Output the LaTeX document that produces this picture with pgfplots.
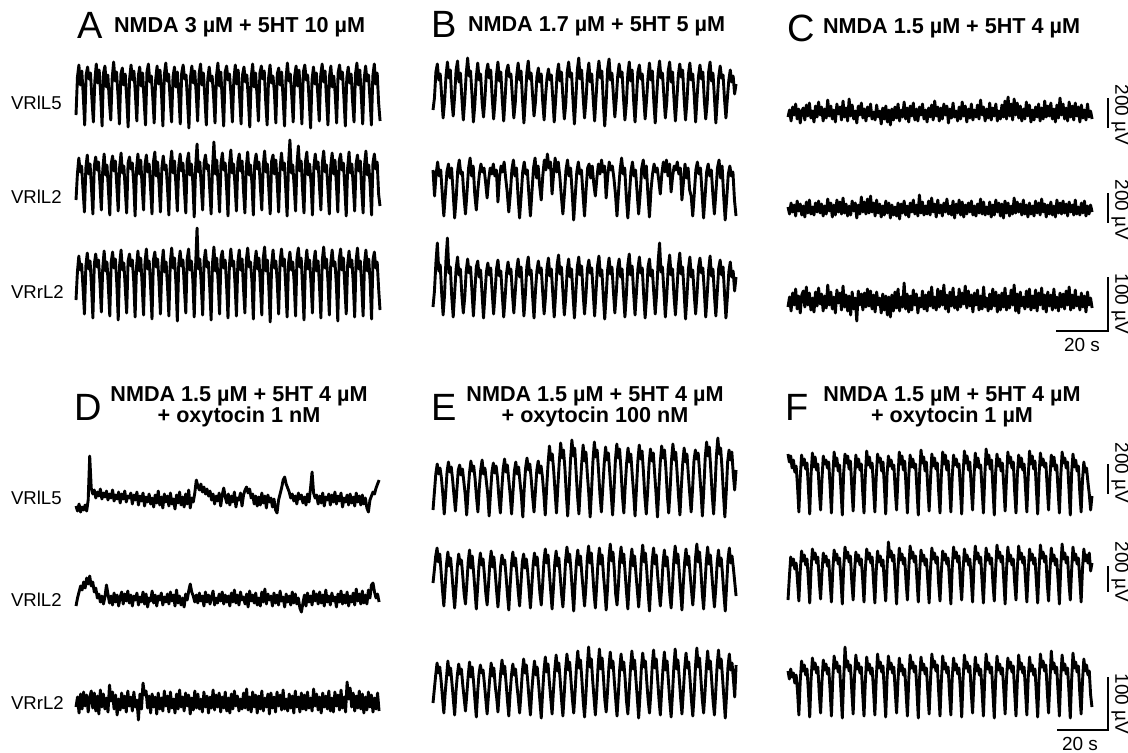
\documentclass[border=0pt]{standalone}
\usepackage{pgfplots}
\pgfplotsset{compat=1.18}
\usepackage{fontspec}
\setmainfont{Liberation Sans}
\pgfplotsset{tr/.style={black, line width=1.45pt, line join=round, mark=none}}
\tikzset{t/.style={inner sep=0pt, outer sep=0pt}}
\newcommand{\trace}[4]{\addplot[tr] table[x expr={#1+#2*\coordindex}, y expr={#3-\thisrow{y}}, row sep=\\]{#4};}
\begin{document}
\begin{tikzpicture}
\path[use as bounding box] (0,0) rectangle (564pt,376pt);
\begin{axis}[scale only axis, width=564pt, height=376pt, xmin=0, xmax=1128, ymin=0, ymax=752, y dir=reverse, hide axis, clip=false]
% ---------------- Panel A ----------------
\trace{76}{1.448}{95}{y\\
-20\\18\\30\\10\\24\\0\\ -30\\20\\28\\16\\22\\-4\\ -27\\14\\31\\12\\25\\2\\ -31\\22\\29\\8\\20\\-6\\ -25\\17\\33\\14\\23\\0\\
-29\\21\\27\\10\\21\\-3\\ -32\\16\\30\\15\\24\\1\\ -26\\19\\28\\9\\22\\-5\\ -30\\23\\31\\13\\19\\-2\\ -28\\15\\29\\11\\25\\3\\
-31\\20\\32\\14\\21\\-4\\ -27\\18\\28\\8\\23\\0\\ -29\\22\\30\\16\\20\\-6\\ -33\\17\\29\\12\\24\\2\\ -26\\21\\31\\10\\22\\-3\\
-30\\16\\28\\14\\19\\-1\\ -28\\19\\32\\9\\23\\-5\\ -31\\23\\29\\15\\21\\1\\ -27\\15\\30\\11\\25\\-2\\ -29\\20\\28\\13\\20\\-4\\
-32\\18\\31\\8\\22\\0\\ -26\\22\\29\\16\\24\\-6\\ -30\\17\\30\\12\\19\\3\\ -28\\21\\27\\10\\23\\-3\\ -31\\16\\32\\14\\21\\-1\\
-27\\19\\29\\9\\25\\2\\ -29\\23\\30\\15\\20\\-5\\ -33\\15\\28\\11\\22\\0\\ -26\\20\\31\\13\\24\\-4\\ -30\\18\\29\\8\\19\\1\\
-28\\22\\30\\16\\23\\-2\\ -31\\17\\28\\12\\21\\-6\\ -27\\21\\32\\10\\25\\0\\ -29\\16\\29\\14\\20\\-3\\ -30\\19\\31\\11\\22\\-8\\
-26\\}
\trace{76}{1.4074}{184}{y\\
-16\\10\\26\\12\\18\\-6\\ -28\\16\\29\\10\\20\\-4\\ -30\\18\\27\\14\\22\\0\\ -26\\14\\30\\9\\19\\-5\\ -31\\20\\28\\13\\23\\-2\\
-27\\17\\31\\11\\18\\-6\\ -29\\21\\27\\15\\21\\1\\ -32\\15\\30\\10\\24\\-3\\ -26\\19\\29\\12\\20\\-5\\ -30\\22\\32\\8\\22\\0\\
-28\\16\\28\\14\\19\\-4\\ -31\\20\\33\\11\\23\\-1\\ -27\\18\\30\\13\\21\\-6\\ -29\\23\\31\\9\\20\\2\\ -33\\17\\40\\12\\22\\-3\\
-26\\21\\29\\15\\19\\-5\\ -30\\16\\42\\10\\24\\0\\ -28\\20\\31\\14\\21\\-4\\ -32\\19\\34\\11\\20\\-2\\ -27\\22\\30\\13\\23\\-6\\
-29\\17\\32\\9\\19\\1\\ -31\\21\\30\\15\\22\\-3\\ -26\\18\\33\\12\\20\\-5\\ -30\\23\\29\\10\\24\\0\\ -28\\16\\31\\14\\21\\-4\\
-32\\20\\44\\11\\19\\-2\\ -27\\19\\38\\13\\23\\-6\\ -29\\22\\32\\9\\20\\1\\ -31\\17\\30\\15\\22\\-3\\ -26\\21\\33\\12\\19\\-5\\
-30\\18\\31\\10\\24\\0\\ -28\\23\\30\\14\\21\\-4\\ -32\\16\\32\\11\\20\\-2\\ -27\\20\\29\\13\\23\\-6\\ -29\\19\\33\\9\\19\\-1\\
-31\\21\\30\\15\\22\\-10\\ -22\\}
\trace{76}{1.4074}{280}{y\\
-20\\8\\24\\10\\16\\-8\\ -34\\14\\27\\11\\19\\-6\\ -38\\16\\26\\13\\20\\-2\\ -32\\12\\29\\9\\18\\-7\\ -36\\18\\28\\12\\21\\-4\\
-40\\15\\30\\10\\17\\-8\\ -33\\19\\26\\14\\20\\-1\\ -37\\13\\29\\9\\22\\-5\\ -35\\17\\31\\11\\19\\-7\\ -39\\20\\28\\13\\21\\-2\\
-34\\14\\30\\8\\18\\-6\\ -36\\18\\32\\12\\22\\-3\\ -41\\16\\29\\14\\20\\-8\\ -33\\21\\31\\10\\19\\0\\ -37\\15\\52\\11\\21\\-5\\
-35\\19\\30\\13\\18\\-7\\ -40\\17\\33\\9\\22\\-2\\ -34\\22\\29\\12\\20\\-6\\ -38\\14\\31\\14\\19\\-4\\ -36\\18\\30\\10\\21\\-8\\
-33\\20\\32\\13\\18\\-1\\ -39\\16\\29\\11\\22\\-5\\ -35\\21\\33\\9\\20\\-7\\ -42\\15\\30\\12\\19\\-3\\ -34\\19\\31\\14\\21\\-6\\
-37\\17\\28\\10\\18\\-2\\ -36\\22\\32\\13\\22\\-8\\ -40\\14\\30\\11\\20\\-4\\ -33\\18\\29\\9\\19\\-6\\ -38\\20\\33\\12\\21\\-1\\
-35\\16\\30\\14\\18\\-5\\ -41\\21\\31\\10\\22\\-7\\ -34\\15\\29\\13\\20\\-3\\ -37\\19\\32\\11\\19\\-6\\ -36\\17\\30\\9\\21\\-2\\
-39\\20\\28\\12\\18\\-8\\ -30\\}
% ---------------- Panel B ----------------
\trace{433}{1.443}{92}{y\\
-18\\-6\\20\\28\\12\\18\\-4\\ -26\\-10\\16\\30\\14\\22\\-8\\ -24\\-4\\22\\31\\10\\19\\-6\\ -28\\-8\\18\\34\\16\\21\\-2\\ -30\\-12\\15\\29\\12\\18\\-10\\
-25\\-6\\20\\28\\14\\22\\-5\\ -27\\-9\\17\\30\\11\\20\\-8\\ -29\\-5\\21\\27\\15\\18\\-4\\ -26\\-11\\16\\29\\12\\21\\-7\\ -31\\-7\\19\\31\\13\\19\\-3\\
-24\\-10\\15\\24\\10\\18\\-9\\ -28\\-4\\14\\23\\12\\17\\-6\\ -30\\-8\\18\\28\\11\\20\\-5\\ -27\\-12\\20\\30\\15\\19\\-8\\ -32\\-6\\22\\34\\13\\22\\-4\\
-26\\-9\\17\\29\\10\\18\\-7\\ -29\\-5\\19\\31\\14\\21\\-10\\ -34\\-10\\23\\33\\12\\19\\-3\\ -25\\-7\\16\\28\\15\\20\\-6\\ -28\\-11\\18\\30\\11\\22\\-8\\
-30\\-6\\20\\27\\13\\18\\-5\\ -27\\-8\\15\\29\\12\\21\\-9\\ -31\\-4\\19\\31\\14\\19\\-4\\ -26\\-10\\21\\30\\10\\20\\-7\\ -29\\-7\\17\\28\\15\\22\\-6\\
-28\\-9\\18\\29\\12\\18\\-3\\ -30\\-5\\16\\27\\13\\20\\-8\\ -27\\-11\\20\\30\\11\\19\\-5\\ -31\\-8\\15\\26\\14\\17\\-7\\ -26\\-6\\12\\22\\10\\16\\-2\\
8\\}
\trace{433}{1.546}{188}{y\\
18\\-8\\14\\26\\12\\18\\-6\\ -28\\-6\\16\\24\\10\\20\\-4\\ -30\\-10\\18\\28\\14\\16\\-8\\ -26\\-4\\20\\30\\12\\22\\-6\\ -22\\-2\\14\\24\\16\\20\\6\\
-10\\8\\20\\14\\24\\12\\18\\ -14\\10\\22\\16\\26\\10\\-4\\ -24\\-6\\18\\28\\12\\20\\-8\\ -30\\-8\\16\\26\\14\\18\\-6\\ -28\\-4\\20\\30\\10\\22\\2\\
-12\\12\\28\\18\\34\\20\\26\\ -6\\14\\30\\16\\26\\12\\-8\\ -26\\-6\\18\\28\\12\\20\\-4\\ -32\\-8\\16\\26\\14\\18\\-6\\ -28\\-2\\20\\24\\10\\22\\4\\
-8\\10\\24\\14\\28\\16\\22\\ -10\\12\\26\\18\\22\\10\\-6\\ -28\\-4\\18\\30\\14\\20\\-8\\ -30\\-8\\16\\26\\12\\18\\-4\\ -26\\-6\\20\\28\\10\\22\\-6\\
-29\\-2\\14\\24\\16\\20\\8\\ -6\\14\\26\\16\\28\\12\\24\\ -4\\12\\22\\18\\26\\14\\20\\ -12\\6\\24\\10\\20\\-2\\-8\\ -28\\-6\\18\\26\\14\\20\\-4\\
-30\\-8\\16\\24\\12\\18\\-6\\ -26\\-4\\20\\28\\10\\22\\-8\\ -32\\-10\\14\\22\\12\\16\\-12\\ -28\\}
\trace{433}{1.443}{287}{y\\
-20\\-4\\24\\44\\16\\22\\-6\\ -28\\-8\\28\\49\\14\\20\\-10\\ -30\\-6\\18\\30\\12\\18\\-8\\ -26\\-10\\16\\28\\14\\20\\-4\\ -29\\-4\\20\\26\\10\\17\\-7\\
-31\\-8\\15\\24\\12\\19\\-5\\ -27\\-6\\18\\27\\11\\16\\-8\\ -30\\-10\\14\\25\\13\\18\\-6\\ -26\\-5\\17\\28\\10\\20\\-4\\ -29\\-8\\20\\30\\12\\17\\-9\\
-31\\-4\\16\\26\\14\\19\\-5\\ -27\\-9\\19\\29\\11\\18\\-7\\ -30\\-6\\22\\32\\13\\20\\-4\\ -28\\-10\\17\\28\\10\\18\\-8\\ -31\\-5\\20\\30\\12\\21\\-6\\
-27\\-8\\18\\27\\14\\19\\-5\\ -29\\-4\\21\\31\\11\\17\\-9\\ -32\\-9\\17\\29\\13\\20\\-4\\ -26\\-6\\19\\28\\10\\18\\-7\\ -30\\-8\\22\\33\\12\\21\\-5\\
-28\\-5\\18\\30\\14\\19\\-8\\ -31\\-10\\20\\28\\11\\17\\-6\\ -27\\-6\\25\\44\\15\\20\\-4\\ -30\\-8\\19\\32\\12\\18\\-9\\ -28\\-4\\21\\34\\13\\20\\-5\\
-32\\-9\\18\\30\\10\\17\\-7\\ -27\\-6\\20\\29\\14\\19\\-4\\ -30\\-8\\17\\31\\11\\18\\-8\\ -29\\-5\\19\\27\\12\\20\\-6\\ -31\\-10\\15\\25\\10\\16\\-4\\
10\\}
% ---------------- Panel C ----------------
\trace{788}{1.528}{113}{y\\
-4\\3\\-8\\6\\-2\\9\\-6\\4\\-10\\2\\ 5\\-7\\8\\-3\\10\\-5\\2\\-9\\7\\-4\\ 11\\-2\\6\\-8\\4\\-5\\13\\-3\\7\\-6\\ 3\\-9\\9\\-1\\6\\-7\\12\\-4\\5\\-8\\
14\\-3\\8\\-6\\2\\-10\\7\\-2\\10\\-5\\ 4\\-8\\6\\-3\\9\\-6\\1\\-7\\8\\-4\\ 2\\-11\\5\\-6\\7\\-9\\3\\-12\\4\\-7\\ 6\\-5\\9\\-8\\3\\-4\\11\\-6\\5\\-9\\
7\\-3\\10\\-7\\4\\-8\\6\\-2\\9\\-6\\ 3\\-9\\5\\-4\\8\\-7\\12\\-3\\6\\-8\\ 5\\-6\\9\\-2\\7\\-10\\4\\-5\\10\\-4\\ 2\\-8\\6\\-6\\11\\-3\\7\\-9\\4\\-5\\
9\\-7\\3\\-4\\8\\-6\\13\\-2\\6\\-8\\ 4\\-5\\10\\-7\\5\\-3\\9\\-8\\2\\-6\\ 8\\-4\\12\\-6\\16\\-3\\9\\-7\\14\\-2\\ 10\\-5\\7\\-8\\4\\-6\\11\\-3\\8\\-9\\
3\\-7\\6\\-4\\9\\-8\\5\\-6\\12\\-4\\ 7\\-3\\10\\-6\\4\\-9\\8\\-5\\15\\-2\\ 9\\-6\\5\\-8\\11\\-4\\7\\-7\\10\\-3\\ 6\\-9\\8\\-5\\3\\-7\\9\\-4\\2\\-6\\}
\trace{788}{1.528}{209}{y\\
2\\-5\\6\\-3\\4\\-7\\8\\-2\\5\\-6\\ 3\\-8\\7\\-4\\9\\-5\\2\\-6\\6\\-3\\ 8\\-4\\5\\-7\\3\\-5\\10\\-2\\6\\-8\\ 4\\-6\\9\\-3\\7\\-5\\11\\-4\\5\\-7\\
3\\-6\\8\\-2\\6\\-9\\4\\-5\\12\\-3\\ 7\\-5\\10\\-4\\13\\-3\\6\\-7\\9\\-4\\ 5\\-8\\3\\-6\\8\\-4\\6\\-9\\4\\-6\\ 2\\-7\\6\\-10\\5\\-4\\8\\-6\\3\\-8\\
6\\-3\\9\\-5\\4\\-7\\14\\-4\\7\\-6\\ 3\\-5\\8\\-6\\11\\-3\\5\\-8\\9\\-4\\ 4\\-7\\6\\-3\\10\\-5\\3\\-6\\8\\-9\\ 5\\-4\\9\\-6\\7\\-8\\4\\-5\\6\\-3\\
8\\-6\\3\\-7\\5\\-4\\10\\-5\\7\\-6\\ 2\\-5\\7\\-8\\4\\-6\\9\\-3\\6\\-7\\ 5\\-9\\8\\-4\\6\\-7\\3\\-5\\11\\-4\\ 7\\-3\\5\\-6\\9\\-5\\4\\-8\\6\\-5\\
3\\-7\\8\\-4\\6\\-6\\10\\-3\\5\\-8\\ 4\\-5\\7\\-6\\3\\-8\\9\\-4\\6\\-5\\ 8\\-4\\5\\-7\\7\\-3\\4\\-6\\9\\-5\\ 2\\-6\\6\\-4\\8\\-7\\3\\-5\\4\\-3\\}
\trace{788}{1.528}{301}{y\\
-6\\4\\-10\\8\\-4\\12\\-8\\5\\-12\\6\\ 10\\-6\\14\\-4\\8\\-9\\3\\-11\\9\\-5\\ 13\\-3\\7\\-10\\5\\-7\\16\\-4\\9\\-8\\ 4\\-12\\11\\-2\\8\\-9\\15\\-6\\6\\-10\\
5\\-14\\9\\-8\\3\\-20\\10\\-4\\7\\-9\\ 8\\-6\\12\\-5\\10\\-8\\6\\-11\\9\\-4\\ 3\\-12\\7\\-9\\5\\-14\\4\\-16\\6\\-10\\ 9\\-7\\12\\-10\\4\\-6\\18\\-8\\7\\-11\\
5\\-9\\11\\-4\\7\\-12\\3\\-6\\10\\-8\\ 6\\-10\\9\\-5\\14\\-7\\4\\-9\\12\\-6\\ 10\\-4\\16\\-8\\6\\-11\\9\\-5\\13\\-7\\ 4\\-9\\12\\-6\\8\\-3\\15\\-7\\10\\-5\\
6\\-11\\8\\-4\\11\\-9\\5\\-8\\14\\-6\\ 3\\-10\\7\\-8\\12\\-5\\9\\-11\\6\\-9\\ 8\\-6\\13\\-9\\5\\-7\\11\\-4\\16\\-10\\ 7\\-12\\9\\-5\\4\\-8\\10\\-6\\12\\-9\\
5\\-7\\11\\-10\\8\\-4\\13\\-8\\6\\-11\\ 9\\-5\\6\\-9\\12\\-7\\4\\-10\\8\\-6\\ 7\\-8\\10\\-4\\14\\-9\\6\\-7\\11\\-5\\ 4\\-9\\8\\-6\\5\\-11\\9\\-4\\3\\-7\\}
% ---------------- Panel D ----------------
\trace{76}{1.523}{502}{y\\
-4\\-9\\-2\\-10\\-5\\-8\\-3\\-9\\2\\46\\ 14\\8\\12\\4\\10\\6\\13\\3\\9\\5\\ 11\\2\\8\\4\\12\\1\\7\\3\\10\\-1\\ 8\\3\\11\\0\\6\\4\\9\\-2\\7\\2\\
10\\-3\\6\\1\\9\\-4\\5\\0\\8\\-2\\ 4\\-5\\7\\-1\\11\\-3\\5\\-6\\8\\0\\ 6\\-4\\9\\-2\\3\\-7\\7\\-1\\10\\-3\\ 5\\-5\\8\\-2\\12\\-6\\4\\0\\9\\22\\
16\\12\\18\\10\\15\\8\\13\\6\\11\\2\\ 8\\-2\\6\\1\\9\\-4\\7\\14\\5\\-1\\ 8\\-3\\6\\0\\10\\-5\\4\\2\\9\\-4\\ 7\\12\\15\\9\\13\\4\\8\\-2\\6\\-4\\
5\\-3\\9\\-1\\6\\-6\\7\\0\\4\\-5\\ 3\\-8\\-11\\2\\8\\14\\22\\25\\18\\14\\ 10\\4\\8\\1\\6\\-2\\9\\3\\7\\-1\\ 5\\-3\\8\\0\\14\\30\\9\\4\\7\\-2\\
6\\-1\\9\\-4\\5\\2\\8\\-3\\7\\0\\ 10\\-2\\6\\1\\9\\-5\\4\\0\\7\\-3\\ 8\\-1\\5\\-4\\9\\0\\6\\-3\\7\\-2\\ 4\\-6\\-10\\2\\6\\10\\8\\14\\18\\22\\}
\trace{76}{1.523}{600}{y\\
-6\\2\\8\\14\\10\\18\\12\\22\\16\\24\\ 14\\18\\8\\12\\2\\6\\-2\\4\\-4\\3\\ 15\\6\\-3\\4\\-5\\7\\-2\\5\\-6\\3\\ 8\\-4\\6\\-1\\9\\-3\\5\\-6\\4\\0\\
7\\-5\\3\\-2\\8\\-4\\6\\-7\\2\\-1\\ 9\\-3\\5\\-6\\4\\0\\7\\-5\\3\\-2\\ 6\\-4\\8\\-1\\5\\-6\\10\\-3\\4\\-5\\ 2\\-7\\6\\0\\9\\16\\8\\4\\-2\\5\\
-3\\7\\-1\\4\\-6\\8\\-2\\5\\-4\\3\\ 9\\-5\\2\\-3\\6\\-1\\8\\-4\\5\\-2\\ 4\\-6\\7\\-2\\10\\-3\\5\\-5\\8\\0\\ 3\\-4\\6\\-7\\9\\-1\\5\\-3\\7\\-5\\
2\\-6\\8\\-2\\11\\-4\\6\\0\\4\\-6\\ 7\\-3\\5\\-5\\9\\-1\\3\\-7\\6\\-2\\ 4\\-5\\8\\-3\\6\\-4\\2\\-8\\-12\\-3\\ 5\\-6\\7\\-2\\4\\-5\\9\\-1\\6\\-4\\
8\\-3\\5\\-6\\10\\-2\\4\\-5\\7\\-1\\ 3\\-7\\6\\-2\\9\\-4\\5\\-3\\8\\-6\\ 4\\-2\\7\\-5\\11\\-1\\6\\-4\\9\\-3\\ 5\\-4\\10\\2\\15\\17\\8\\2\\6\\-2\\}
\trace{76}{1.523}{703}{y\\
-4\\6\\-10\\9\\-6\\11\\-3\\8\\-9\\5\\ 12\\-5\\10\\-8\\7\\-11\\13\\-4\\9\\-6\\ 5\\-9\\18\\2\\11\\-6\\8\\-12\\4\\-7\\ 10\\-5\\7\\-9\\12\\-3\\6\\-8\\11\\-4\\
3\\-17\\9\\-6\\20\\8\\12\\-5\\7\\-10\\ 9\\-4\\6\\-11\\10\\-6\\5\\-8\\12\\-3\\ 7\\-9\\11\\-5\\4\\-10\\9\\-6\\13\\-4\\ 6\\-8\\10\\-3\\8\\-11\\5\\-7\\12\\-5\\
9\\-6\\4\\-9\\11\\-4\\7\\-10\\6\\-5\\ 13\\-7\\8\\-4\\10\\-9\\6\\-5\\11\\-8\\ 5\\-10\\9\\-6\\12\\-3\\7\\-8\\4\\-6\\ 10\\-5\\14\\-7\\6\\-9\\11\\-4\\8\\-10\\
7\\-6\\12\\-8\\5\\-4\\9\\-11\\10\\-5\\ 6\\-9\\11\\-3\\8\\-7\\13\\-6\\4\\-8\\ 9\\-5\\7\\-10\\12\\-4\\6\\-9\\10\\-6\\ 8\\-7\\11\\-5\\5\\-8\\14\\-3\\9\\-7\\
6\\-10\\10\\-4\\7\\-6\\12\\-8\\5\\-9\\ 11\\-3\\8\\-7\\13\\-5\\6\\-9\\21\\4\\ 15\\-4\\10\\-8\\7\\-5\\12\\-6\\9\\-10\\ 6\\-7\\11\\-4\\8\\-9\\5\\-6\\10\\-8\\}
% ---------------- Panel E ----------------
\trace{433}{1.403}{480}{y\\
-30\\-12\\6\\16\\6\\12\\2\\-14\\ -34\\-14\\8\\18\\8\\13\\0\\-16\\ -31\\-10\\10\\15\\5\\11\\-2\\-15\\ -35\\-12\\7\\19\\9\\14\\1\\-17\\
-32\\-8\\10\\20\\6\\12\\-1\\-14\\ -36\\-13\\8\\17\\7\\14\\2\\-18\\ -33\\-10\\11\\21\\8\\15\\0\\-15\\ -34\\-12\\9\\18\\6\\13\\-2\\-16\\
-37\\-9\\12\\22\\10\\16\\1\\-17\\ -32\\-11\\10\\19\\7\\14\\3\\-14\\ -35\\-8\\16\\34\\20\\26\\10\\-12\\ -33\\-6\\18\\37\\22\\30\\12\\-14\\
-36\\-10\\20\\40\\24\\32\\8\\-16\\ -34\\-7\\17\\35\\19\\28\\6\\-13\\ -37\\-11\\19\\38\\23\\30\\9\\-15\\ -32\\-8\\16\\33\\20\\27\\7\\-14\\
-35\\-10\\20\\36\\22\\31\\10\\-16\\ -33\\-6\\17\\32\\18\\26\\5\\-13\\ -36\\-9\\19\\35\\21\\29\\8\\-17\\ -34\\-11\\16\\31\\19\\27\\6\\-14\\
-37\\-8\\18\\34\\22\\30\\11\\-15\\ -33\\-10\\20\\36\\20\\28\\7\\-16\\ -35\\-7\\17\\32\\18\\26\\5\\-14\\ -32\\-9\\19\\30\\21\\27\\8\\-12\\
-36\\-10\\22\\38\\24\\33\\10\\-15\\ -34\\-8\\24\\42\\26\\32\\12\\-14\\ -37\\-12\\18\\30\\20\\28\\6\\-10\\ 10\\}
\trace{433}{1.353}{578}{y\\
-5\\8\\22\\30\\16\\24\\6\\-12\\ -28\\-8\\14\\26\\12\\20\\4\\-14\\ -30\\-10\\12\\24\\14\\18\\2\\-16\\ -26\\-6\\16\\28\\10\\22\\6\\-12\\
-31\\-9\\13\\25\\13\\19\\3\\-15\\ -27\\-7\\15\\27\\11\\21\\5\\-13\\ -29\\-10\\12\\23\\14\\18\\2\\-16\\ -32\\-8\\14\\26\\12\\20\\4\\-14\\
-28\\-6\\16\\24\\10\\19\\6\\-12\\ -30\\-9\\13\\25\\13\\21\\3\\-15\\ -27\\-7\\17\\29\\15\\23\\5\\-13\\ -31\\-10\\15\\27\\12\\20\\2\\-16\\
-29\\-8\\18\\31\\16\\24\\7\\-14\\ -33\\-6\\16\\28\\13\\22\\4\\-12\\ -28\\-9\\19\\32\\15\\25\\6\\-15\\ -30\\-7\\17\\30\\14\\23\\3\\-13\\
-32\\-10\\20\\34\\17\\26\\8\\-16\\ -27\\-8\\18\\31\\15\\24\\5\\-14\\ -31\\-6\\16\\29\\12\\22\\4\\-12\\ -29\\-9\\19\\33\\16\\25\\7\\-15\\
-33\\-7\\17\\30\\14\\23\\3\\-13\\ -28\\-10\\15\\28\\12\\21\\5\\-16\\ -30\\-8\\18\\32\\15\\24\\6\\-14\\ -32\\-6\\16\\29\\13\\22\\4\\-12\\
-27\\-9\\20\\34\\16\\26\\7\\-15\\ -31\\-7\\17\\31\\14\\23\\5\\-13\\ -29\\-10\\15\\28\\12\\20\\3\\-16\\ -33\\-8\\18\\30\\15\\22\\10\\-4\\
-18\\}
\trace{433}{1.353}{685}{y\\
-18\\-4\\10\\22\\12\\18\\4\\-12\\ -28\\-8\\8\\24\\10\\17\\2\\-14\\ -30\\-6\\10\\21\\11\\16\\0\\-13\\ -26\\-9\\9\\23\\8\\18\\3\\-15\\
-32\\-7\\11\\20\\12\\15\\1\\-14\\ -29\\-10\\8\\22\\9\\17\\-1\\-12\\ -27\\-6\\12\\25\\11\\19\\2\\-15\\ -31\\-8\\10\\21\\10\\16\\0\\-13\\
-28\\-9\\13\\26\\12\\20\\4\\-14\\ -30\\-7\\11\\24\\10\\18\\2\\-16\\ -33\\-8\\14\\28\\13\\21\\3\\-13\\ -29\\-6\\15\\30\\14\\22\\5\\-15\\
-31\\-9\\16\\31\\15\\23\\4\\-14\\ -28\\-7\\18\\34\\17\\25\\6\\-16\\ -32\\-10\\17\\38\\18\\26\\5\\-13\\ -30\\-8\\19\\36\\16\\27\\7\\-15\\
-27\\-6\\18\\33\\17\\24\\4\\-14\\ -31\\-9\\16\\31\\15\\23\\6\\-16\\ -29\\-7\\18\\34\\16\\25\\5\\-13\\ -33\\-10\\17\\32\\18\\24\\3\\-15\\
-28\\-8\\19\\35\\17\\26\\6\\-14\\ -30\\-6\\17\\33\\15\\24\\4\\-16\\ -32\\-9\\18\\36\\16\\25\\7\\-13\\ -29\\-7\\16\\32\\17\\23\\5\\-15\\
-31\\-10\\19\\37\\18\\27\\6\\-14\\ -28\\-8\\17\\34\\16\\24\\4\\-16\\ -30\\-6\\20\\35\\17\\26\\7\\-13\\ -33\\-9\\18\\31\\15\\22\\6\\-12\\
20\\}
% ---------------- Panel F ----------------
\trace{788}{1.357}{482}{y\\
28\\20\\26\\14\\22\\10\\16\\-4\\ -30\\4\\27\\17\\23\\13\\19\\-6\\ -32\\8\\29\\15\\25\\12\\18\\-8\\ -28\\2\\26\\18\\22\\14\\20\\-4\\
-31\\6\\30\\16\\24\\11\\17\\-7\\ -33\\9\\28\\19\\26\\13\\21\\-5\\ -29\\3\\27\\15\\23\\12\\18\\-9\\ -31\\7\\31\\17\\25\\14\\19\\-6\\
-30\\5\\28\\20\\24\\11\\20\\-4\\ -32\\8\\26\\16\\22\\13\\17\\-8\\ -28\\4\\30\\18\\26\\12\\21\\-5\\ -31\\6\\27\\15\\23\\14\\18\\-7\\
-33\\9\\32\\19\\25\\11\\20\\-6\\ -29\\3\\28\\16\\24\\13\\19\\-9\\ -31\\7\\30\\18\\27\\12\\21\\-4\\ -30\\5\\27\\17\\23\\15\\18\\-7\\
-32\\8\\31\\19\\26\\12\\20\\-5\\ -28\\4\\29\\15\\24\\14\\17\\-8\\ -31\\6\\33\\18\\27\\13\\22\\-6\\ -33\\9\\28\\16\\23\\11\\19\\-4\\
-29\\3\\30\\19\\25\\14\\20\\-9\\ -31\\7\\27\\15\\24\\12\\18\\-6\\ -30\\5\\31\\18\\26\\13\\21\\-7\\ -32\\8\\29\\17\\23\\15\\19\\-5\\
-28\\4\\27\\16\\25\\12\\17\\-8\\ -31\\6\\30\\19\\24\\14\\20\\-6\\ -33\\9\\28\\15\\22\\11\\16\\-10\\ -30\\2\\20\\10\\14\\0\\-12\\-28\\
-14\\}
\trace{788}{1.357}{575}{y\\
-25\\-2\\18\\10\\16\\6\\12\\-6\\ -26\\4\\24\\14\\20\\10\\16\\-4\\ -28\\6\\26\\16\\22\\12\\18\\-6\\ -24\\2\\22\\13\\19\\9\\15\\-8\\
-27\\5\\25\\15\\21\\11\\17\\-5\\ -29\\7\\28\\17\\23\\13\\19\\-7\\ -25\\3\\23\\14\\20\\10\\16\\-4\\ -27\\6\\26\\16\\22\\12\\18\\-6\\
-28\\4\\24\\13\\19\\9\\15\\-8\\ -26\\8\\33\\18\\24\\14\\20\\-5\\ -29\\5\\27\\15\\21\\11\\17\\-7\\ -25\\7\\29\\17\\23\\13\\19\\-4\\
-27\\3\\25\\14\\20\\10\\16\\-6\\ -28\\6\\27\\16\\22\\12\\18\\-8\\ -26\\4\\24\\15\\21\\11\\17\\-5\\ -29\\7\\28\\17\\23\\13\\19\\-7\\
-25\\5\\26\\14\\20\\10\\16\\-4\\ -27\\8\\29\\16\\22\\12\\18\\-6\\ -28\\4\\27\\15\\21\\11\\17\\-8\\ -26\\6\\30\\17\\23\\13\\19\\-5\\
-29\\5\\28\\14\\20\\10\\16\\-7\\ -25\\7\\29\\16\\22\\12\\18\\-4\\ -27\\3\\26\\15\\21\\11\\17\\-6\\ -28\\6\\30\\17\\23\\13\\19\\-8\\
-26\\4\\27\\14\\20\\10\\16\\-5\\ -29\\8\\31\\16\\22\\12\\18\\-7\\ -25\\5\\28\\15\\21\\11\\17\\-4\\ -27\\6\\26\\14\\20\\12\\22\\4\\
12\\}
\trace{788}{1.357}{685}{y\\
14\\6\\16\\8\\12\\2\\10\\-6\\ -30\\4\\24\\14\\20\\10\\16\\-6\\ -32\\6\\27\\16\\22\\12\\18\\-8\\ -28\\3\\25\\15\\21\\11\\17\\-5\\
-31\\7\\29\\17\\23\\13\\19\\-7\\ -33\\5\\38\\18\\24\\14\\20\\-6\\ -29\\8\\30\\16\\22\\12\\18\\-8\\ -31\\4\\28\\15\\21\\11\\17\\-5\\
-30\\6\\31\\17\\23\\13\\19\\-7\\ -32\\7\\29\\16\\22\\12\\18\\-6\\ -28\\3\\27\\14\\20\\10\\16\\-8\\ -31\\6\\30\\17\\23\\13\\19\\-5\\
-33\\8\\28\\15\\21\\11\\17\\-7\\ -29\\5\\31\\18\\24\\14\\20\\-6\\ -31\\4\\29\\16\\22\\12\\18\\-8\\ -30\\7\\27\\15\\21\\11\\17\\-5\\
-32\\6\\30\\17\\23\\13\\19\\-7\\ -28\\3\\28\\14\\20\\10\\16\\-6\\ -31\\8\\31\\16\\22\\12\\18\\-8\\ -33\\5\\29\\15\\21\\11\\17\\-5\\
-29\\6\\27\\17\\23\\13\\19\\-7\\ -31\\4\\30\\16\\22\\12\\18\\-6\\ -30\\7\\28\\14\\20\\10\\16\\-8\\ -32\\6\\31\\18\\24\\14\\20\\-5\\
-28\\3\\34\\16\\22\\12\\18\\-7\\ -31\\8\\30\\15\\21\\11\\17\\-6\\ -33\\5\\32\\17\\23\\13\\19\\-8\\ -29\\4\\26\\14\\20\\10\\14\\-10\\
-22\\}
% ---------------- scale bars ----------------
\addplot[black, line width=1.2pt] coordinates {(1108,98) (1108,128)};
\addplot[black, line width=1.2pt] coordinates {(1108,193) (1108,223)};
\addplot[black, line width=1.2pt] coordinates {(1108,277) (1108,331) (1056,331)};
\addplot[black, line width=1.2pt] coordinates {(1108,464) (1108,494)};
\addplot[black, line width=1.2pt] coordinates {(1108,566) (1108,592)};
\addplot[black, line width=1.2pt] coordinates {(1108,677) (1108,730) (1057,730)};
\node[t, rotate=-90, font=\fontsize{9.5}{9.5}\selectfont] at (axis cs:1120,115) {200 µV};
\node[t, rotate=-90, font=\fontsize{9.5}{9.5}\selectfont] at (axis cs:1120,210) {200 µV};
\node[t, rotate=-90, font=\fontsize{9.5}{9.5}\selectfont] at (axis cs:1120,304) {100 µV};
\node[t, font=\fontsize{9.5}{9.5}\selectfont] at (axis cs:1082,345) {20 s};
\node[t, rotate=-90, font=\fontsize{9.5}{9.5}\selectfont] at (axis cs:1120,473) {200 µV};
\node[t, rotate=-90, font=\fontsize{9.5}{9.5}\selectfont] at (axis cs:1120,572) {200 µV};
\node[t, rotate=-90, font=\fontsize{9.5}{9.5}\selectfont] at (axis cs:1120,704) {100 µV};
\node[t, font=\fontsize{9.5}{9.5}\selectfont] at (axis cs:1080,744) {20 s};
% ---------------- row labels ----------------
\node[t, anchor=west, font=\fontsize{9.3}{9.3}\selectfont] at (axis cs:11,103) {VRlL5};
\node[t, anchor=west, font=\fontsize{9.3}{9.3}\selectfont] at (axis cs:11,197) {VRlL2};
\node[t, anchor=west, font=\fontsize{9.3}{9.3}\selectfont] at (axis cs:11,292) {VRrL2};
\node[t, anchor=west, font=\fontsize{9.3}{9.3}\selectfont] at (axis cs:11,498) {VRlL5};
\node[t, anchor=west, font=\fontsize{9.3}{9.3}\selectfont] at (axis cs:11,600) {VRlL2};
\node[t, anchor=west, font=\fontsize{9.3}{9.3}\selectfont] at (axis cs:11,703) {VRrL2};
% ---------------- panel letters and titles ----------------
\node[t, anchor=base, font=\fontsize{19}{19}\selectfont] at (axis cs:90,38) {A};
\node[t, anchor=base, font=\fontsize{19}{19}\selectfont] at (axis cs:444,37) {B};
\node[t, anchor=base, font=\fontsize{19}{19}\selectfont] at (axis cs:801,41) {C};
\node[t, anchor=base, font=\fontsize{19}{19}\selectfont] at (axis cs:88,420) {D};
\node[t, anchor=base, font=\fontsize{19}{19}\selectfont] at (axis cs:444,420) {E};
\node[t, anchor=base, font=\fontsize{19}{19}\selectfont] at (axis cs:797,420) {F};
\node[t, anchor=base west, font=\bfseries\fontsize{10.8}{10.8}\selectfont] at (axis cs:114,32) {NMDA 3 µM + 5HT 10 µM};
\node[t, anchor=base west, font=\bfseries\fontsize{10.8}{10.8}\selectfont] at (axis cs:468,31) {NMDA 1.7 µM + 5HT 5 µM};
\node[t, anchor=base west, font=\bfseries\fontsize{10.8}{10.8}\selectfont] at (axis cs:823,33) {NMDA 1.5 µM + 5HT 4 µM};
\node[t, anchor=base, font=\bfseries\fontsize{10.8}{10.8}\selectfont] at (axis cs:239,401) {NMDA 1.5 µM + 5HT 4 µM};
\node[t, anchor=base, font=\bfseries\fontsize{10.8}{10.8}\selectfont] at (axis cs:239,422) {+ oxytocin 1 nM};
\node[t, anchor=base, font=\bfseries\fontsize{10.8}{10.8}\selectfont] at (axis cs:595,401) {NMDA 1.5 µM + 5HT 4 µM};
\node[t, anchor=base, font=\bfseries\fontsize{10.8}{10.8}\selectfont] at (axis cs:595,422) {+ oxytocin 100 nM};
\node[t, anchor=base, font=\bfseries\fontsize{10.8}{10.8}\selectfont] at (axis cs:952,401) {NMDA 1.5 µM + 5HT 4 µM};
\node[t, anchor=base, font=\bfseries\fontsize{10.8}{10.8}\selectfont] at (axis cs:952,422) {+ oxytocin 1 µM};
\end{axis}
\end{tikzpicture}
\end{document}
